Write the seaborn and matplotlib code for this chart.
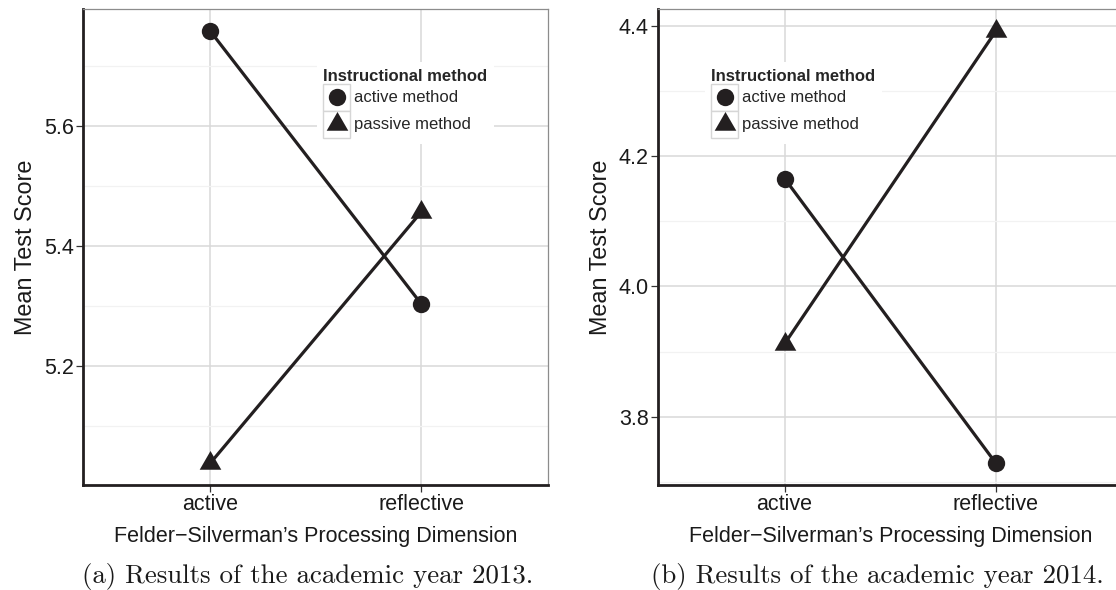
import numpy as np
import pandas as pd
import matplotlib
matplotlib.use("Agg")
import matplotlib.pyplot as plt
import seaborn as sns
from matplotlib.lines import Line2D
from matplotlib.patches import Rectangle
from matplotlib.legend_handler import HandlerBase
from matplotlib.ticker import MultipleLocator

# ---- data ----
dimension = ["active", "reflective"]
methods = ["active method", "passive method"]
scores_2013_active_method = [5.758, 5.303]
scores_2013_passive_method = [5.038, 5.457]
scores_2014_active_method = [4.166, 3.728]
scores_2014_passive_method = [3.912, 4.393]
yticks_2013 = [5.2, 5.4, 5.6]
yticks_2014 = [3.8, 4.0, 4.2, 4.4]
captions = ["(a) Results of the academic year 2013.",
            "(b) Results of the academic year 2014."]
xlabel = "Felder\u2212Silverman\u2019s Processing Dimension"
ylabel = "Mean Test Score"
legend_title = "Instructional method"

def make_df(a, p):
    return pd.DataFrame({
        "dim": dimension * 2,
        "score": list(a) + list(p),
        "method": [methods[0]] * 2 + [methods[1]] * 2,
    })

df13 = make_df(scores_2013_active_method, scores_2013_passive_method)
df14 = make_df(scores_2014_active_method, scores_2014_passive_method)

sns.set_theme(style="white")
plt.rcParams["font.family"] = ["Liberation Sans", "DejaVu Sans"]

INK = "#231f20"
TRI = [(0.0, 1.0), (-0.866, -0.5), (0.866, -0.5)]
marker_map = {methods[0]: "o", methods[1]: TRI}
msize = {methods[0]: 12.5, methods[1]: 18}

W, H = 1116, 590
fig = plt.figure(figsize=(W / 100, H / 100), dpi=100)

class BoxedMarker(HandlerBase):
    def create_artists(self, legend, orig_handle, xdescent, ydescent,
                       width, height, fontsize, trans):
        rect = Rectangle((-xdescent, -ydescent), width, height,
                         facecolor="white", edgecolor="#d6d6d6", lw=1.0,
                         transform=trans)
        m = Line2D([width / 2 - xdescent], [height / 2 - ydescent],
                   marker=orig_handle.get_marker(),
                   markersize=orig_handle.get_markersize(),
                   color=INK, markeredgewidth=0, linestyle="none",
                   transform=trans)
        return [rect, m]

def panel(left_px, df, yticks, legend_left_px, caption, cap_x_px):
    ax = fig.add_axes([left_px / W, 1 - 485 / H, 465 / W, 475.7 / H])
    sns.lineplot(data=df, x="dim", y="score", style="method",
                 markers=marker_map, dashes=False, color=INK,
                 linewidth=2.3, markeredgewidth=0, legend=False, ax=ax,
                 sort=False, zorder=3)
    for line, m in zip(ax.get_lines(), methods):
        line.set_markersize(msize[m])
    ax.set_xlim(-0.6, 1.6)
    lo, hi = df["score"].min(), df["score"].max()
    pad = 0.05 * (hi - lo)
    ax.set_ylim(lo - pad, hi + pad)
    ax.set_yticks(yticks)
    ax.set_yticklabels([f"{t:.1f}" for t in yticks])
    ax.yaxis.set_minor_locator(MultipleLocator(0.1))
    ax.grid(which="major", axis="both", color="#d9d9d9", lw=1.1, zorder=0)
    ax.grid(which="minor", axis="y", color="#f2f2f2", lw=0.9, zorder=0)
    ax.set_axisbelow(True)
    for s in ["top", "right"]:
        ax.spines[s].set_color("#8c8c8c")
        ax.spines[s].set_linewidth(0.9)
    for s in ["left", "bottom"]:
        ax.spines[s].set_color(INK)
        ax.spines[s].set_linewidth(2.0)
    ax.tick_params(which="major", axis="both", length=5, width=0.9,
                   color="#333333", labelsize=15.5, labelcolor="#1a1a1a",
                   pad=1.5, left=True, bottom=True)
    ax.tick_params(which="minor", length=0)
    ax.set_xlabel(xlabel, fontsize=15.5, color="#1a1a1a", labelpad=8)
    ax.set_ylabel(ylabel, fontsize=16.8, color="#1a1a1a", labelpad=5)
    handles = [Line2D([], [], marker=marker_map[m], markersize=msize[m],
                      color=INK, linestyle="none", markeredgewidth=0)
               for m in methods]
    leg = ax.legend(handles, methods, title=legend_title,
                    loc="upper left",
                    bbox_to_anchor=(legend_left_px / W, 1 - 62 / H),
                    bbox_transform=fig.transFigure,
                    handler_map={Line2D: BoxedMarker()},
                    frameon=True, fancybox=False, framealpha=1,
                    facecolor="white", edgecolor="white",
                    fontsize=12, title_fontproperties={"weight": "bold", "size": 12},
                    handlelength=1.62, handleheight=2.11, handletextpad=0.2,
                    labelspacing=0, borderpad=0.4, borderaxespad=0)
    leg._legend_box.align = "left"
    leg.get_frame().set_linewidth(0)
    fig.text(cap_x_px / W, 1 - 576 / H, caption, family="cmr10",
             fontsize=19.4, ha="center", va="center", color="#1a1a1a")
    return ax

panel(83.3, df13, yticks_2013, 316.7, captions[0], 307.7)
panel(657.8, df14, yticks_2014, 704.5, captions[1], 877)

fig.savefig("out.png", dpi=100)
